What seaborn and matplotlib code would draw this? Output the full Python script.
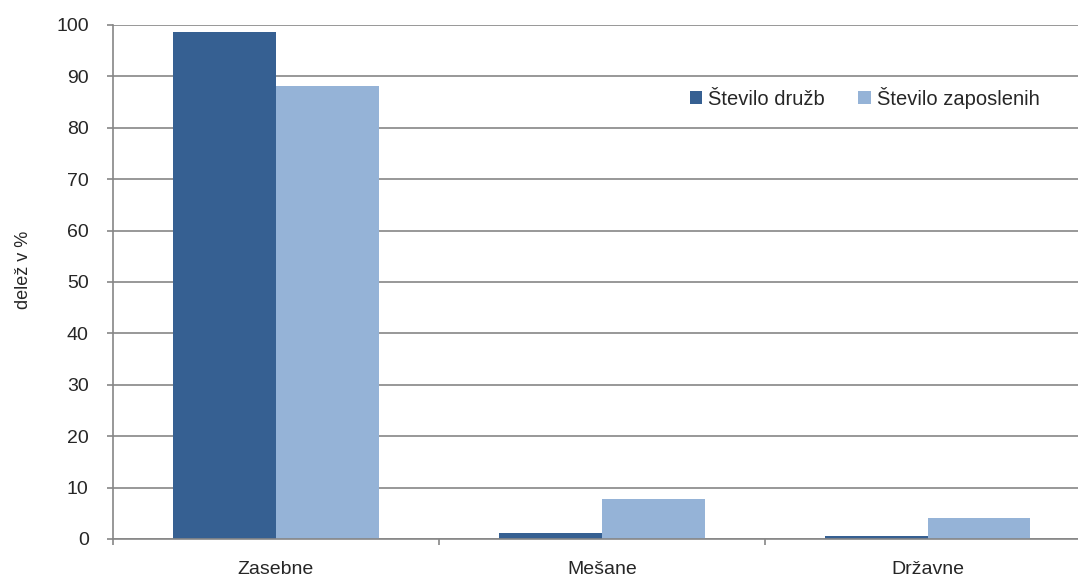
import pandas as pd
import matplotlib
matplotlib.use("Agg")
import matplotlib.pyplot as plt
import seaborn as sns

# podatki
kategorije = ["Zasebne", "Mešane", "Državne"]
serije = ["Število družb", "Število zaposlenih"]
stevilo_druzb = [98.7, 1.2, 0.5]
stevilo_zaposlenih = [88.2, 7.7, 4.1]
y_ticki = [0, 10, 20, 30, 40, 50, 60, 70, 80, 90, 100]

barve = ["#366092", "#95B3D7"]
siva = "#868686"

df = pd.DataFrame({
    "kategorija": kategorije * 2,
    "serija": [serije[0]] * 3 + [serije[1]] * 3,
    "delez": stevilo_druzb + stevilo_zaposlenih,
})

sns.set_style("white")
plt.rcParams["font.family"] = ["Liberation Sans", "DejaVu Sans"]

fig = plt.figure(figsize=(10.78, 5.81), dpi=100)
ax = fig.add_axes([0.1048, 0.0723, 0.907, 0.8847])

sns.barplot(
    data=df, x="kategorija", y="delez", hue="serija",
    order=kategorije, hue_order=serije, palette=barve,
    width=0.63, saturation=1, ax=ax, edgecolor="none",
)

ax.set_ylim(0, 100)
ax.set_xlim(-0.5, 2.5)
ax.set_yticks(y_ticki)
ax.yaxis.grid(True, color=siva, linewidth=1.2)
ax.set_axisbelow(True)

for s in ["top", "right"]:
    ax.spines[s].set_visible(False)
for s in ["left", "bottom"]:
    ax.spines[s].set_color(siva)
    ax.spines[s].set_linewidth(1.2)

ax.tick_params(axis="y", left=True, length=4.5, color=siva, width=1.2,
               labelsize=14, pad=13)
ax.set_xticks([0, 1, 2])
ax.set_xticklabels(kategorije, fontsize=14)
ax.tick_params(axis="x", bottom=False, pad=12)
ax.set_xticks([-0.5, 0.5, 1.5], minor=True)
ax.tick_params(axis="x", which="minor", bottom=True, length=4.5,
               color=siva, width=1.2)

ax.set_xlabel("")
ax.set_ylabel("delež v %", fontsize=13)
ax.yaxis.set_label_coords(-0.083, 0.523)

ax.legend(
    loc="center left", bbox_to_anchor=(0.590, 0.858), ncol=2, frameon=False,
    fontsize=14.5, handlelength=0.62, handleheight=0.62, handletextpad=0.3,
    columnspacing=1.65, borderpad=0, borderaxespad=0,
)

fig.savefig("out.png", dpi=100)
